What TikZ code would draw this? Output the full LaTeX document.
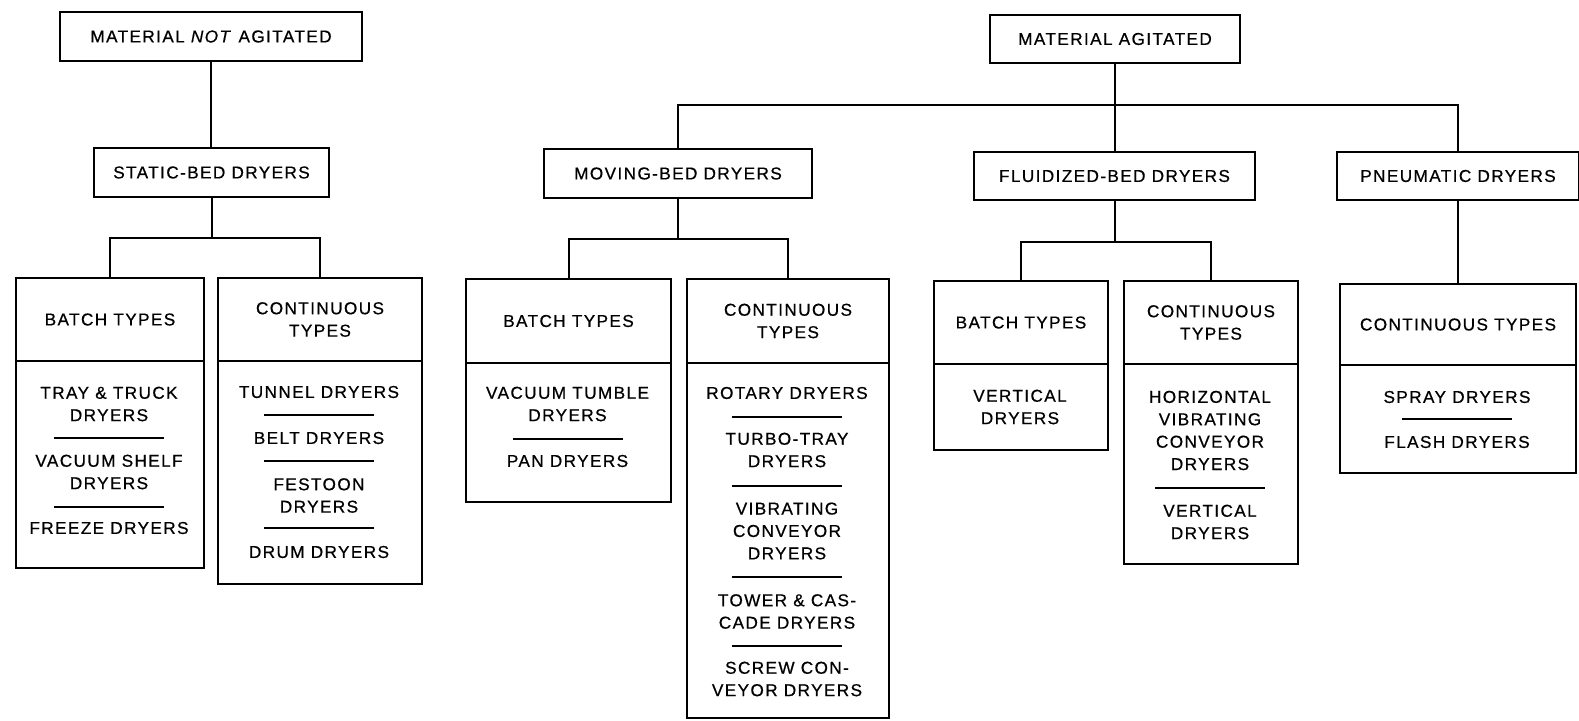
\documentclass[tikz,border=0pt]{standalone}
\usepackage{fontspec}
\setmainfont{Liberation Sans}[LetterSpace=8,FakeBold=0.6]
\begin{document}
\begin{tikzpicture}[x=0.5pt,y=-0.5pt,
  every node/.style={font=\fontsize{8.6pt}{11.2pt}\selectfont},
  bx/.style={draw,line width=1pt,rectangle,anchor=north west,inner sep=0pt,align=center},
  tx/.style={inner sep=0pt,align=center},
  ln/.style={line width=1pt},
  sepl/.style={line width=0.9pt}]
\newcommand\sepline[2]{\draw[sepl] ({#1-55},#2) -- ({#1+55},#2);}
\useasboundingbox (0,0) rectangle (1579,720);
% top level
\node[bx,minimum width=151pt,minimum height=24.5pt] (nag) at (59,11) {MATERIAL \textit{NOT} AGITATED};
\node[bx,minimum width=125pt,minimum height=24pt] (ag) at (989,14) {MATERIAL AGITATED};
% second level
\node[bx,minimum width=117.5pt,minimum height=24.5pt] (stat) at (93,147) {STATIC-BED DRYERS};
\node[bx,minimum width=134pt,minimum height=24.5pt] (mov) at (543,148) {MOVING-BED DRYERS};
\node[bx,minimum width=140.5pt,minimum height=24pt] (flu) at (973,151) {FLUIDIZED-BED DRYERS};
\node[bx,minimum width=121pt,minimum height=24pt] (pne) at (1336,151) {PNEUMATIC DRYERS};
% type boxes
\node[bx,minimum width=94pt,minimum height=41.5pt] (sbh) at (15,277) {BATCH TYPES};
\node[bx,minimum width=94pt,minimum height=103.5pt] (sbb) at (15,360) {};
\node[bx,minimum width=102pt,minimum height=41.5pt] (sch) at (217,277) {CONTINUOUS\\TYPES};
\node[bx,minimum width=102pt,minimum height=111.5pt] (scb) at (217,360) {};
\node[bx,minimum width=102.5pt,minimum height=42pt] (mbh) at (465,278) {BATCH TYPES};
\node[bx,minimum width=102.5pt,minimum height=69.5pt] (mbb) at (465,362) {};
\node[bx,minimum width=101pt,minimum height=42pt] (mch) at (686,278) {CONTINUOUS\\TYPES};
\node[bx,minimum width=101pt,minimum height=177.5pt] (mcb) at (686,362) {};
\node[bx,minimum width=87pt,minimum height=41.5pt] (fbh) at (933,280) {BATCH TYPES};
\node[bx,minimum width=87pt,minimum height=43pt] (fbb) at (933,363) {};
\node[bx,minimum width=87pt,minimum height=41.5pt] (fch) at (1123,280) {CONTINUOUS\\TYPES};
\node[bx,minimum width=87pt,minimum height=100pt] (fcb) at (1123,363) {};
\node[bx,minimum width=118pt,minimum height=40.5pt] (pch) at (1339,283) {CONTINUOUS TYPES};
\node[bx,minimum width=118pt,minimum height=54pt] (pcb) at (1339,364) {};
% connectors
\coordinate (jS) at (stat.south |- 0,238);
\coordinate (jA) at (ag.south |- 0,105);
\coordinate (jM) at (mov.south |- 0,239);
\coordinate (jF) at (flu.south |- 0,242);
\draw[ln] (nag.south) -- (nag.south |- stat.north);
\draw[ln] (stat.south) -- (jS);
\draw[ln] (sbh.north) |- (jS) -| (sch.north);
\draw[ln] (ag.south) -- (ag.south |- flu.north);
\draw[ln] (mov.north) |- (jA) -| (pne.north);
\draw[ln] (mov.south) -- (jM);
\draw[ln] (mbh.north) |- (jM) -| (mch.north);
\draw[ln] (flu.south) -- (jF);
\draw[ln] (fbh.north) |- (jF) -| (fch.north);
\draw[ln] (pne.south) -- (pne.south |- pch.north);
% static batch
\node[tx] (s1) at (109,404) {TRAY \& TRUCK\\DRYERS};
\sepline{109}{438}
\node[tx] (s2) at (109,472) {VACUUM SHELF\\DRYERS};
\sepline{109}{507}
\node[tx] (s3) at (109,528) {FREEZE DRYERS};
% static continuous
\node[tx] (c1) at (319,392) {TUNNEL DRYERS};
\sepline{319}{415}
\node[tx] (c2) at (319,438) {BELT DRYERS};
\sepline{319}{461}
\node[tx] (c3) at (319,495.5) {FESTOON\\DRYERS};
\sepline{319}{528}
\node[tx] (c4) at (319,552) {DRUM DRYERS};
% moving batch
\node[tx] (m1) at (567.5,404) {VACUUM TUMBLE\\DRYERS};
\sepline{567.5}{439}
\node[tx] (m2) at (567.5,461) {PAN DRYERS};
% moving continuous
\node[tx] (n1) at (787,393) {ROTARY DRYERS};
\sepline{787}{417}
\node[tx] (n2) at (787,450) {TURBO-TRAY\\DRYERS};
\sepline{787}{486}
\node[tx] (n3) at (787,531) {VIBRATING\\CONVEYOR\\DRYERS};
\sepline{787}{577}
\node[tx] (n4) at (787,611.5) {TOWER \& CAS-\\CADE DRYERS};
\sepline{787}{646}
\node[tx] (n5) at (787,679) {SCREW CON-\\VEYOR DRYERS};
% fluidized batch
\node[tx] (f1) at (1020,407) {VERTICAL\\DRYERS};
% fluidized continuous
\node[tx] (g1) at (1210,430.5) {HORIZONTAL\\VIBRATING\\CONVEYOR\\DRYERS};
\sepline{1210}{488}
\node[tx] (g2) at (1210,522) {VERTICAL\\DRYERS};
% pneumatic
\node[tx] (p1) at (1457,397) {SPRAY DRYERS};
\sepline{1457}{419}
\node[tx] (p2) at (1457,442) {FLASH DRYERS};
\end{tikzpicture}
\end{document}
